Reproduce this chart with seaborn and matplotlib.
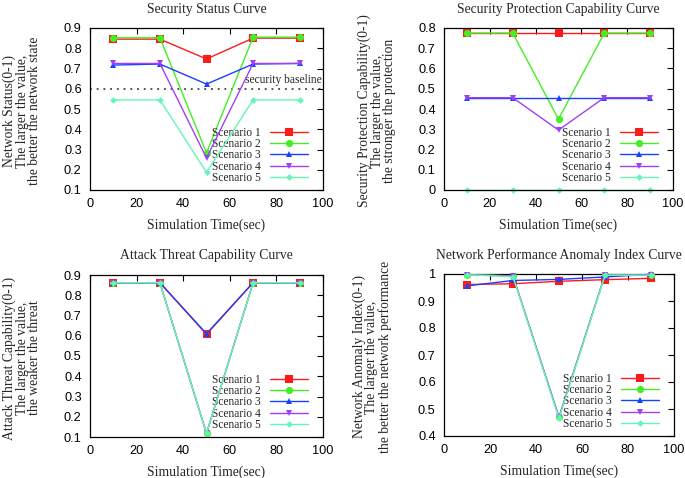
import matplotlib
matplotlib.use("Agg")
import matplotlib.pyplot as plt
import numpy as np
import pandas as pd
import seaborn as sns
from matplotlib.ticker import FormatStrFormatter, MultipleLocator

# ---------------- data ----------------
time_sec = [10, 30, 50, 70, 90]
scenarios = ["Scenario 1", "Scenario 2", "Scenario 3", "Scenario 4", "Scenario 5"]

status_s1 = [0.845, 0.845, 0.747, 0.850, 0.850]
status_s2 = [0.852, 0.852, 0.283, 0.855, 0.855]
status_s3 = [0.717, 0.722, 0.623, 0.722, 0.725]
status_s4 = [0.725, 0.725, 0.258, 0.725, 0.725]
status_s5 = [0.545, 0.545, 0.187, 0.545, 0.545]
security_baseline = 0.6

protect_s1 = [0.775, 0.775, 0.775, 0.775, 0.775]
protect_s2 = [0.775, 0.775, 0.350, 0.775, 0.775]
protect_s3 = [0.456, 0.456, 0.456, 0.456, 0.456]
protect_s4 = [0.456, 0.456, 0.296, 0.456, 0.456]
protect_s5 = [0.0, 0.0, 0.0, 0.0, 0.0]

threat_s1 = [0.862, 0.862, 0.607, 0.862, 0.862]
threat_s2 = [0.862, 0.862, 0.118, 0.862, 0.862]
threat_s3 = [0.862, 0.862, 0.610, 0.862, 0.862]
threat_s4 = [0.862, 0.862, 0.118, 0.862, 0.862]
threat_s5 = [0.862, 0.862, 0.118, 0.862, 0.862]

anomaly_s1 = [0.961, 0.964, 0.973, 0.979, 0.984]
anomaly_s2 = [0.998, 0.993, 0.470, 0.998, 0.996]
anomaly_s3 = [0.956, 0.976, 0.980, 0.989, 0.999]
anomaly_s4 = [0.998, 0.992, 0.470, 0.996, 0.996]
anomaly_s5 = [0.997, 0.990, 0.465, 0.995, 0.996]

panel_titles = ["Security Status Curve", "Security Protection Capability Curve",
                "Attack Threat Capability Curve", "Network Performance Anomaly Index Curve"]
panel_ylabels = [
    "Network Status(0-1)\nThe larger the value,\nthe better the network state",
    "Security Protection Capability(0-1)\nThe larger the value,\nthe stronger the protection",
    "Attack Threat Capability(0-1)\nThe larger the value,\nthe weaker the threat",
    "Network Anomaly Index(0-1)\nThe larger the value,\nthe better the network performance",
]
xlabel_text = "Simulation Time(sec)"
x_ticks = [0, 20, 40, 60, 80, 100]
y_ranges = [(0.1, 0.9), (0.0, 0.8), (0.1, 0.9), (0.4, 1.0)]

panel_series = [
    [status_s1, status_s2, status_s3, status_s4, status_s5],
    [protect_s1, protect_s2, protect_s3, protect_s4, protect_s5],
    [threat_s1, threat_s2, threat_s3, threat_s4, threat_s5],
    [anomaly_s1, anomaly_s2, anomaly_s3, anomaly_s4, anomaly_s5],
]

# ---------------- styles ----------------
colors = ["#ff1a1a", "#44ee22", "#1a40ff", "#a040f5", "#66f5b8"]
markers = ["s", "o", "^", "v", "D"]
msizes = [5.2, 5.2, 4.6, 4.6, 3.4]

sns.set_theme(style="white")
plt.rcParams["font.family"] = ["Liberation Serif", "DejaVu Serif"]

W, H = 685, 478
fig = plt.figure(figsize=(W / 100, H / 100), dpi=100)


def fx(x):
    return x / W


def fy(y):
    return 1 - y / H


# axes pixel boxes: left, right, top, bottom
boxes = [(90, 323, 28, 190), (444, 673, 28, 190), (90, 323, 275, 437), (444, 674, 274, 436)]
ylabel_offsets = [-68, -67, -68, -72]

for i, (l, r, t, b) in enumerate(boxes):
    ax = fig.add_axes([fx(l), fy(b), (r - l) / W, (b - t) / H])
    for j, name in enumerate(scenarios):
        df = pd.DataFrame({"time": time_sec, "value": panel_series[i][j]})
        sns.lineplot(data=df, x="time", y="value", ax=ax, color=colors[j],
                     marker=markers[j], markersize=msizes[j], markeredgewidth=0,
                     linewidth=1.0, label=name, legend=False, clip_on=False, zorder=3 + j)
    if i == 0:
        ax.axhline(security_baseline, color="#222222", lw=1.1, ls=(0, (1.2, 3.2)), zorder=1)
        ax.text(99.6, security_baseline + 0.012, "security baseline", ha="right", va="bottom",
                fontsize=8.3, family=["Liberation Serif"])
    ax.set_xlim(0, 100)
    ax.set_ylim(*y_ranges[i])
    ax.set_xticks(x_ticks)
    ax.yaxis.set_major_locator(MultipleLocator(0.1))
    ax.yaxis.set_major_formatter(FormatStrFormatter("%g"))
    ax.set_xlabel("")
    ax.set_ylabel("")
    ax.tick_params(direction="in", length=4, width=0.8, top=True, right=True,
                   labelsize=9.2, pad=6, colors="black")
    for lab in ax.get_xticklabels() + ax.get_yticklabels():
        lab.set_family(["Liberation Sans"])
    for sp in ax.spines.values():
        sp.set_color("black")
        sp.set_linewidth(0.9)
    ax.spines["bottom"].set_zorder(20)
    handles, labels = ax.get_legend_handles_labels()
    leg = ax.legend(handles, labels, loc="lower right", bbox_to_anchor=(1 - 15 / (r - l), 0.035),
                    frameon=False, markerfirst=False, fontsize=8.3, handlelength=3.3,
                    handletextpad=0.8, labelspacing=-0.05, borderpad=0, borderaxespad=0)
    cx = (l + r) / 2
    fig.text(fx(cx), fy(t - 19), panel_titles[i], ha="center", va="center", fontsize=9.8)
    fig.text(fx(cx), fy(b + 35), xlabel_text, ha="center", va="center", fontsize=9.8)
    fig.text(fx(l + ylabel_offsets[i]), fy((t + b) / 2 + 2), panel_ylabels[i], ha="center",
             va="center", rotation=90, multialignment="center", fontsize=9.8, linespacing=0.95)

fig.savefig("out.png", dpi=100)
